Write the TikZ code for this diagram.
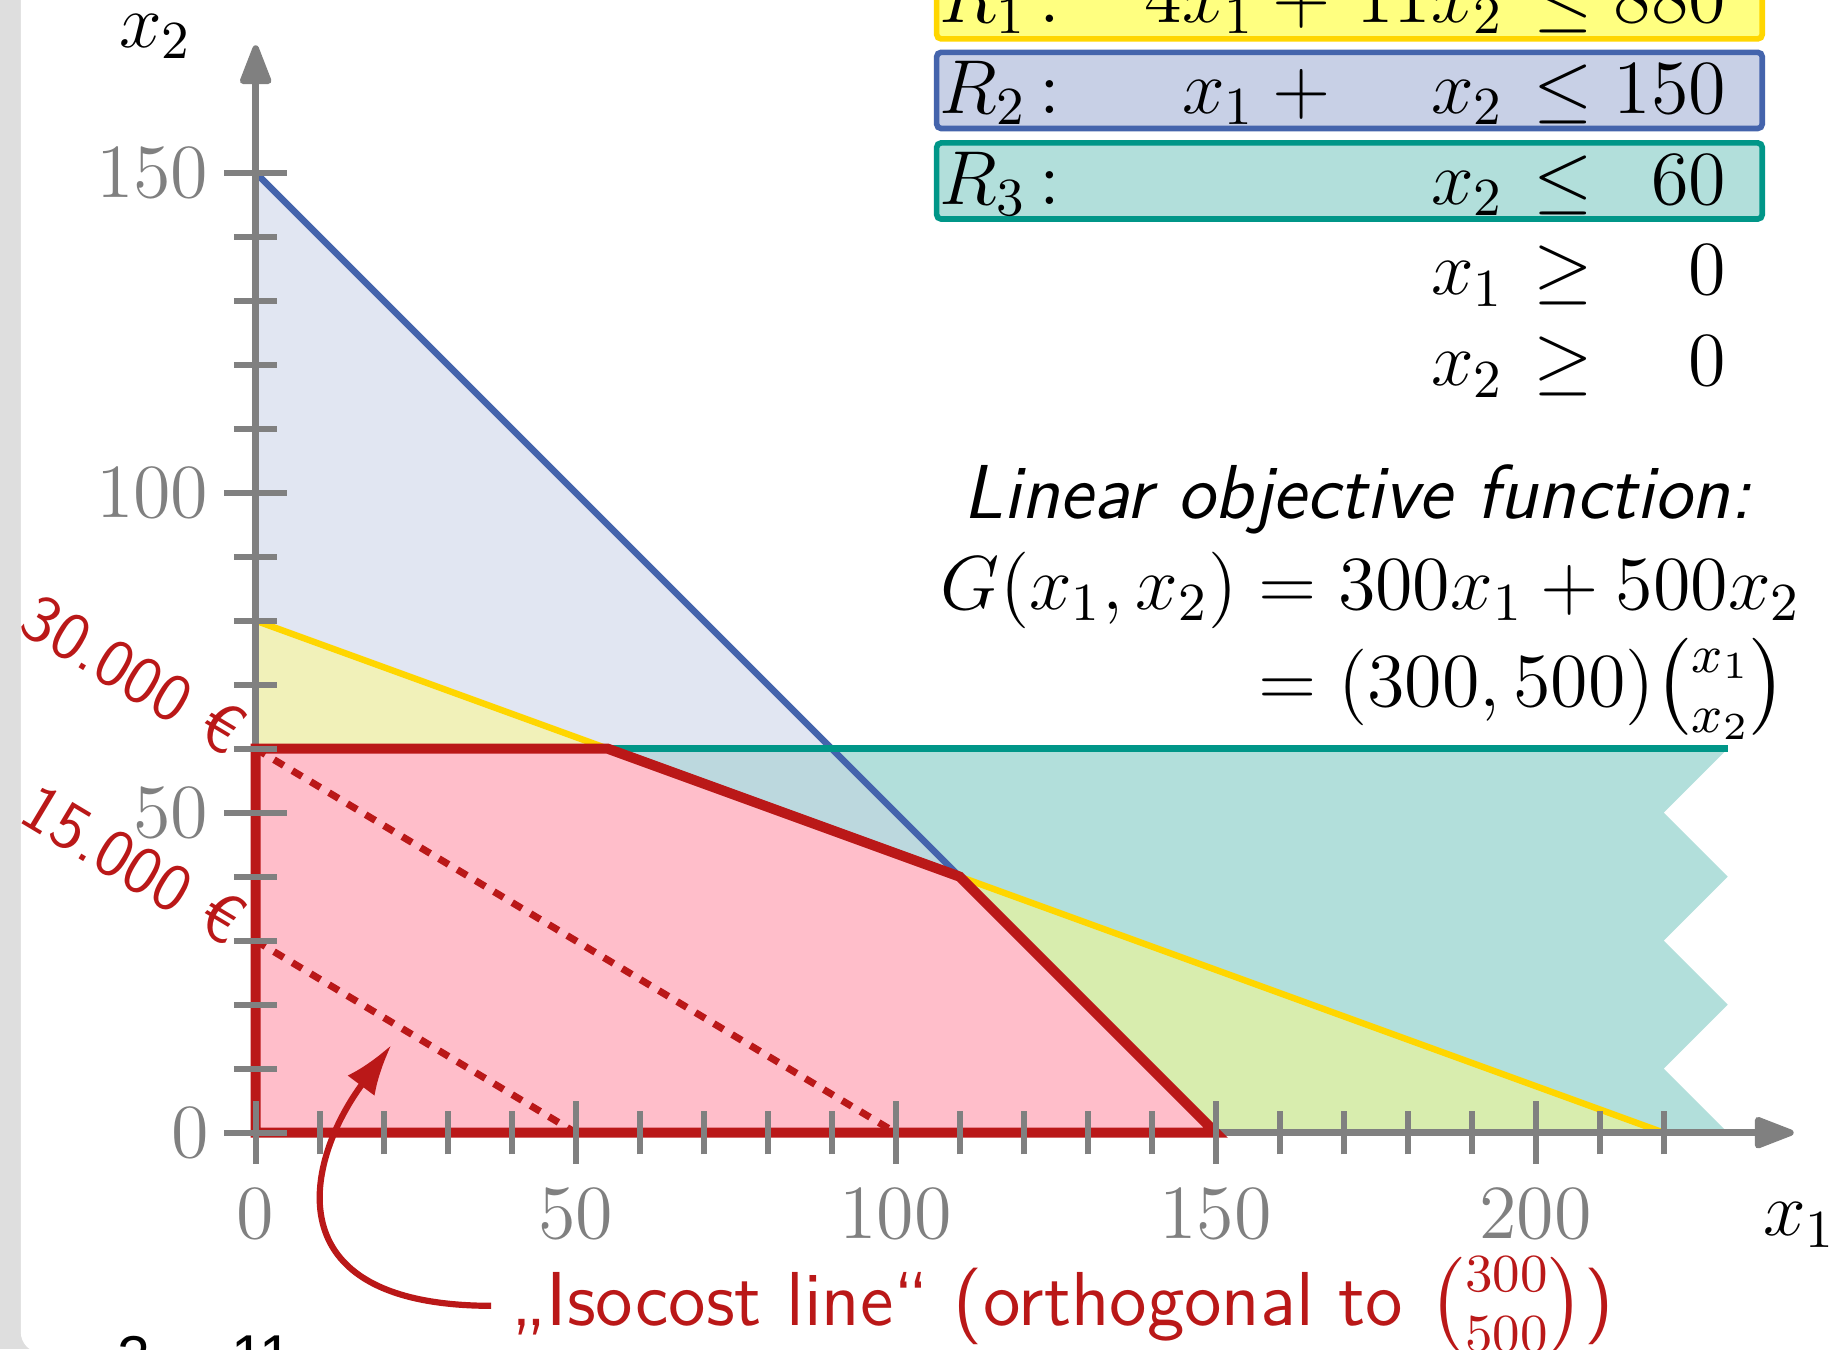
\RequirePackage{fix-cm}
\documentclass[tikz,border=0pt]{standalone}
\usepackage{amsmath}
\usepackage{fontspec}
\newfontfamily\pagefont{Liberation Sans}
\usetikzlibrary{positioning,arrows.meta,calc}
\definecolor{feasred}{HTML}{BA1818}
\definecolor{feaspink}{HTML}{FFBECA}
\definecolor{rblue}{HTML}{4464AC}
\definecolor{ryellow}{HTML}{FFD600}
\definecolor{rteal}{HTML}{009688}
\definecolor{axisgray}{HTML}{808080}
\definecolor{framegray}{HTML}{DEDEDE}
\definecolor{fblue}{HTML}{E1E6F2}
\definecolor{fyellowblue}{HTML}{F1F1B9}
\definecolor{fblueteal}{HTML}{BCD8DE}
\definecolor{fteal}{HTML}{B2DFDB}
\definecolor{fyellowteal}{HTML}{D8EDAE}
\definecolor{boxyellow}{HTML}{FFFF80}
\definecolor{boxblue}{HTML}{C8D0E6}
\newcommand{\mainsize}{\fontsize{13.6pt}{16pt}\selectfont}
\newcommand{\sanssize}{\fontsize{13.6pt}{16pt}\selectfont\sffamily}
\newcommand{\eqrow}[5]{\makebox[1.22cm][l]{\hspace*{-0.5mm}#1}\makebox[1.28cm][r]{#2}%
  \makebox[0.98cm][r]{#3}\makebox[0.744cm]{#4}\makebox[0.644cm][r]{#5}}
\tikzset{
  eqbox/.style={minimum width=5.16cm, minimum height=4.76mm, inner sep=0pt,
                line width=1pt, rounded corners=0.8pt},
  eqrow/.style={anchor=base west, inner sep=0pt, font=\mainsize},
  txt/.style={inner sep=0pt, font=\mainsize},
  sanstxt/.style={inner sep=0pt, font=\sanssize},
  constr/.style={line width=1.15pt},
  axis/.style={axisgray, line width=1.15pt, -{Triangle[length=8pt,width=5.8pt,round]}},
  tick/.style={axisgray, line width=1.1pt},
  ticklbl/.style={txt, text=axisgray},
  feasible/.style={draw=feasred, fill=feaspink, line width=1.8pt},
  isoline/.style={feasred, line width=1.25pt, dash pattern=on 2pt off 1.8pt},
  isolbl/.style={inner sep=0pt, font=\fontsize{12pt}{14pt}\selectfont\sffamily,
                 text=feasred, rotate=-30.96, anchor=base east},
  note/.style={-{Latex[length=9pt,width=6pt]}, feasred, line width=1.1pt},
  pagenum/.style={anchor=north west, inner sep=0pt,
                  font=\pagefont\fontsize{10.5pt}{12pt}\selectfont}
}

\begin{document}
\begin{tikzpicture}[x=0.4mm, y=0.4mm]
  \useasboundingbox (-39.95,-33.8) rectangle (246.14,176.98);
  \clip (-39.95,-33.8) rectangle (246.14,176.98);
  % slide frame
  \fill[framegray] (-39.95,-33.8) rectangle (246.14,176.98);
  \fill[white, rounded corners=1.3mm] (-36.7,-34.4) rectangle (260,190);

  % regions
  \fill[fteal] (0,0) -- (0,60) -- (230,60) -- (220,50) -- (230,40) -- (220,30)
    -- (230,20) -- (220,10) -- (230,0) -- cycle;
  \fill[fblue] (0,0) -- (150,0) -- (0,150) -- cycle;
  \fill[fyellowblue] (0,60) -- (0,80) -- (55,60) -- cycle;
  \fill[fblueteal] (55,60) -- (90,60) -- (110,40) -- cycle;
  \fill[fyellowteal] (110,40) -- (150,0) -- (220,0) -- cycle;

  % constraint lines
  \draw[constr, rblue] (0,150) -- (150,0);
  \draw[constr, ryellow] (0,80) -- (220,0);
  \draw[constr, rteal] (0,60) -- (230,60);

  % axes
  \draw[axis] (0,0) -- (240.3,0);
  \draw[axis] (0,0) -- (0,169.9);

  % feasible set and isocost lines
  \draw[feasible] (0,0) -- (150,0) -- (110,40) -- (55,60) -- (0,60) -- cycle;
  \draw[isoline] (0,60) -- (100,0);
  \draw[isoline] (0,30) -- (50,0);

  % ticks
  \foreach \t in {10,20,30,40,60,70,80,90,110,120,130,140,160,170,180,190,210,220}
    \draw[tick] (\t,-3.4) -- (\t,3.4);
  \foreach \t in {0,50,...,200}
    \draw[tick] (\t,-4.9) -- (\t,4.9);
  \foreach \t in {10,20,30,40,60,70,80,90,110,120,130,140}
    \draw[tick] (-3.4,\t) -- (3.4,\t);
  \foreach \t in {0,50,...,150}
    \draw[tick] (-4.9,\t) -- (4.9,\t);
  \foreach \t in {0,50,...,200}
    \node[ticklbl, anchor=north] (xl\t) at (\t,-8.6) {$\t$};
  \foreach \t in {0,50,...,150}
    \node[ticklbl, anchor=east] (yl\t) at (-7.2,\t) {$\t$};
  \node[txt, anchor=base west] (x1lbl) at (235.4,-16.1) {$x_1$};
  \node[txt, anchor=base west] (x2lbl) at (-21.5,169.6) {$x_2$};

  \node[isolbl] (iso30) at (-4.3,58.6) {30.000 €};
  \node[isolbl] (iso15) at (-4.3,28.9) {15.000 €};

  % constraints table
  \node[eqbox, fill=boxyellow, draw=ryellow] (r1box) at (170.9,176.85) {};
  \node[eqbox, fill=boxblue, draw=rblue] (r2box) at (170.9,162.85) {};
  \node[eqbox, fill=fteal, draw=rteal] (r3box) at (170.9,148.7) {};
  \node[eqrow] (r1row) at (107.9,173.5) {\eqrow{$R_1\,{:}$}{$4x_1+{}$}{$11x_2$}{$\le$}{$880$}};
  \node[eqrow] (r2row) at (107.9,159.3) {\eqrow{$R_2\,{:}$}{$x_1+{}$}{$x_2$}{$\le$}{$150$}};
  \node[eqrow] (r3row) at (107.9,145.1) {\eqrow{$R_3\,{:}$}{}{$x_2$}{$\le$}{$60$}};
  \node[eqrow] (nn1row) at (107.9,130.9) {\eqrow{}{}{$x_1$}{$\ge$}{$0$}};
  \node[eqrow] (nn2row) at (107.9,116.7) {\eqrow{}{}{$x_2$}{$\ge$}{$0$}};

  % objective
  \node[sanstxt, anchor=base west] (objtitle) at (110.4,96) {\slshape Linear objective function:};
  \node[txt, anchor=base west] (objline1) at (106.9,81.8) {$G(x_1,x_2) = 300x_1 + 500x_2$};
  \node[txt, anchor=base west] (objline2) at (106.9,66.6)
    {$\phantom{G(x_1,x_2)} = (300,500)\tbinom{x_1}{x_2}$};

  % annotation
  \node[sanstxt, text=feasred, anchor=base west] (isotext) at (39.8,-30.1)
    {„Isocost line“ (orthogonal to $\binom{300}{500}$)};
  \coordinate (isotip) at (21.2,13.7);
  \draw[note] ([xshift=-1.2mm]isotext.west) .. controls (2,-27) and (8,-4) .. (isotip);

  \node[pagenum] (pgcur) at (-21.7,-31.6) {2};
  \node[pagenum] (pgall) at (-4.0,-31.6) {11};
\end{tikzpicture}
\end{document}
